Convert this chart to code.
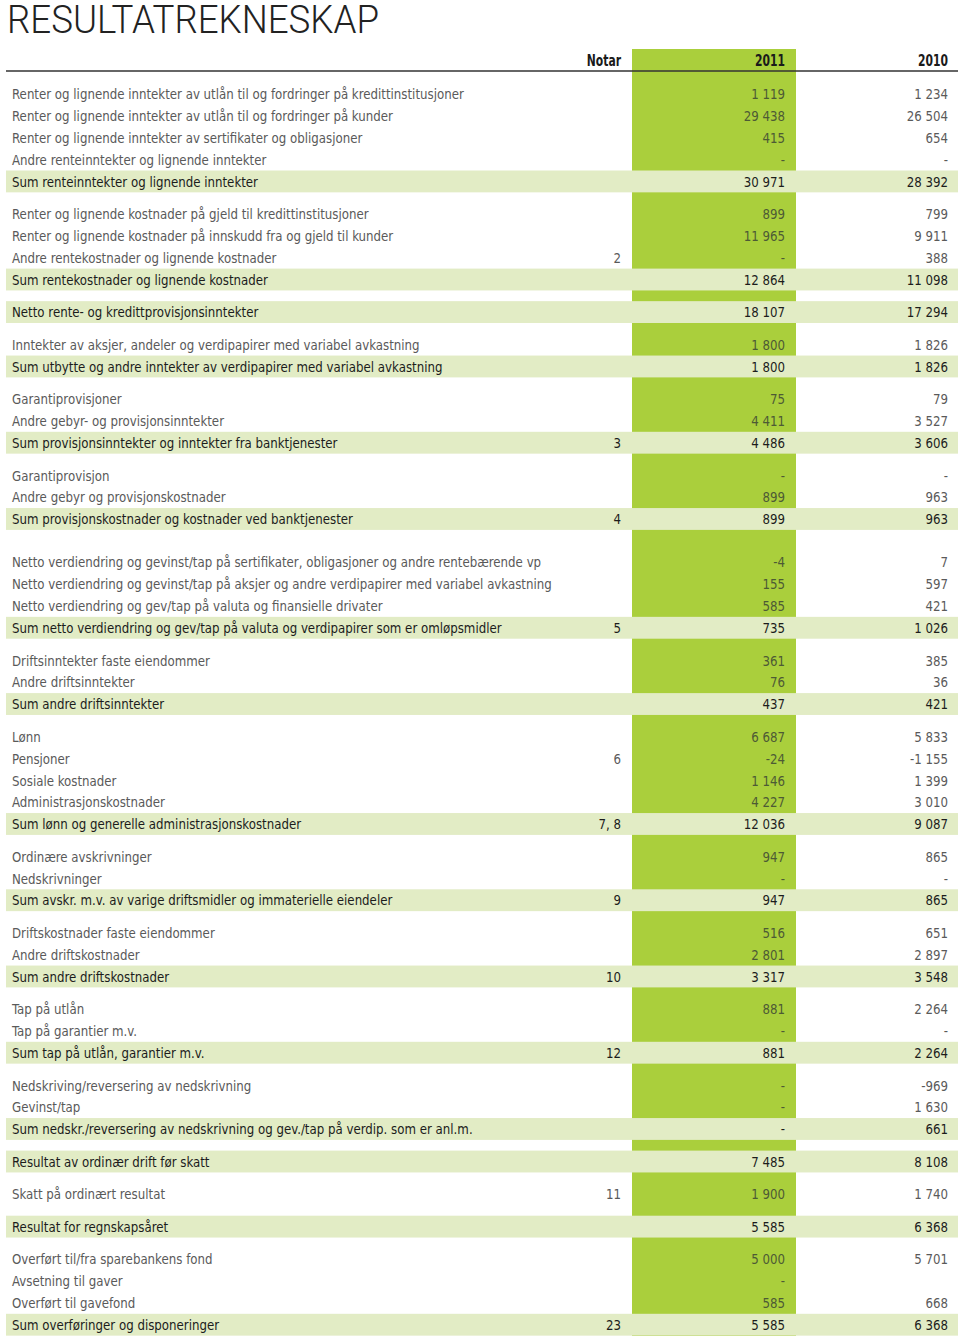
<!DOCTYPE html>
<html>
<head>
<meta charset="utf-8">
<script src="https://cdn.jsdelivr.net/npm/d3@7"></script>
<style>
  body { margin: 0; background: #fff; }
  svg { display: block; }
</style>
</head>
<body>
<div id="chart"></div>
<script>
// RESULTATREKNESKAP

const labels = [
  'Renter og lignende inntekter av utlån til og fordringer på kredittinstitusjoner',
  'Renter og lignende inntekter av utlån til og fordringer på kunder',
  'Renter og lignende inntekter av sertifikater og obligasjoner',
  'Andre renteinntekter og lignende inntekter',
  'Sum renteinntekter og lignende inntekter',
  'Renter og lignende kostnader på gjeld til kredittinstitusjoner',
  'Renter og lignende kostnader på innskudd fra og gjeld til kunder',
  'Andre rentekostnader og lignende kostnader',
  'Sum rentekostnader og lignende kostnader',
  'Netto rente- og kredittprovisjonsinntekter',
  'Inntekter av aksjer, andeler og verdipapirer med variabel avkastning',
  'Sum utbytte og andre inntekter av verdipapirer med variabel avkastning',
  'Garantiprovisjoner',
  'Andre gebyr- og provisjonsinntekter',
  'Sum provisjonsinntekter og inntekter fra banktjenester',
  'Garantiprovisjon',
  'Andre gebyr og provisjonskostnader',
  'Sum provisjonskostnader og kostnader ved banktjenester',
  'Netto verdiendring og gevinst/tap på sertifikater, obligasjoner og andre rentebærende vp',
  'Netto verdiendring og gevinst/tap på aksjer og andre verdipapirer med variabel avkastning',
  'Netto verdiendring og gev/tap på valuta og finansielle drivater',
  'Sum netto verdiendring og gev/tap på valuta og verdipapirer som er omløpsmidler',
  'Driftsinntekter faste eiendommer',
  'Andre driftsinntekter',
  'Sum andre driftsinntekter',
  'Lønn',
  'Pensjoner',
  'Sosiale kostnader',
  'Administrasjonskostnader',
  'Sum lønn og generelle administrasjonskostnader',
  'Ordinære avskrivninger',
  'Nedskrivninger',
  'Sum avskr. m.v. av varige driftsmidler og immaterielle eiendeler',
  'Driftskostnader faste eiendommer',
  'Andre driftskostnader',
  'Sum andre driftskostnader',
  'Tap på utlån',
  'Tap på garantier m.v.',
  'Sum tap på utlån, garantier m.v.',
  'Nedskriving/reversering av nedskrivning',
  'Gevinst/tap',
  'Sum nedskr./reversering av nedskrivning og gev./tap på verdip. som er anl.m.',
  'Resultat av ordinær drift før skatt',
  'Skatt på ordinært resultat',
  'Resultat for regnskapsåret',
  'Overført til/fra sparebankens fond',
  'Avsetning til gaver',
  'Overført til gavefond',
  'Sum overføringer og disponeringer'
]

const notes = [
  '', '', '', '', '',
  '', '', '2', '',
  '',
  '', '',
  '', '', '3',
  '', '', '4',
  '', '', '', '5',
  '', '', '',
  '', '6', '', '', '7, 8',
  '', '', '9',
  '', '', '10',
  '', '', '12',
  '', '', '',
  '',
  '11',
  '',
  '', '', '', '23'
]

// null = "-", undefined = blank
const values2011 = [
  1119, 29438, 415, null, 30971,
  899, 11965, null, 12864,
  18107,
  1800, 1800,
  75, 4411, 4486,
  null, 899, 899,
  -4, 155, 585, 735,
  361, 76, 437,
  6687, -24, 1146, 4227, 12036,
  947, null, 947,
  516, 2801, 3317,
  881, null, 881,
  null, null, null,
  7485,
  1900,
  5585,
  5000, null, 585, 5585
]

const values2010 = [
  1234, 26504, 654, null, 28392,
  799, 9911, 388, 11098,
  17294,
  1826, 1826,
  79, 3527, 3606,
  null, 963, 963,
  7, 597, 421, 1026,
  385, 36, 421,
  5833, -1155, 1399, 3010, 9087,
  865, null, 865,
  651, 2897, 3548,
  2264, null, 2264,
  -969, 1630, 661,
  8108,
  1740,
  6368,
  5701, undefined, 668, 6368
]

// which rows are sum rows, and the group each row belongs to
const sumRows = [4, 8, 9, 11, 14, 17, 21, 24, 29, 32, 35, 38, 41, 42, 44, 48]
const groupSizes = [5, 4, 1, 2, 3, 3, 4, 3, 5, 3, 3, 3, 3, 1, 1, 1, 4]
const wideGapBefore = [6]

const years = ['Notar', '2011', '2010']

const width = 960
const height = 1336

const rowH = 21.85
const gapH = 10.7
const rowsTop = 83.1

const svg = d3
  .select('#chart')
  .append('svg')
  .attr('width', width)
  .attr('height', height)

// build rows
const rows = []
let idx = 0
let gaps = 0
groupSizes.forEach((n, g) => {
  if (g > 0) gaps += wideGapBefore.includes(g) ? 2 : 1
  for (let k = 0; k < n; k++) {
    rows.push({
      label: labels[idx],
      note: notes[idx],
      v2011: values2011[idx],
      v2010: values2010[idx],
      sum: sumRows.includes(idx),
      top: rowsTop + idx * rowH + gaps * gapH
    })
    idx++
  }
})

const xCol = d3
  .scaleOrdinal()
  .domain(years)
  .range([621, 785, 948])

const fmtNum = d3.formatLocale({
  decimal: ',',
  thousands: ' ',
  grouping: [3],
  currency: ['', ''],
  minus: '-'
}).format(',d')

function fmt(v) {
  if (v === undefined) return ''
  if (v === null) return '-'
  return fmtNum(v)
}

const font = "'DejaVu Sans Condensed', 'DejaVu Sans', sans-serif"
const squeeze = 0.9

// green 2011 column
svg
  .append('rect')
  .attr('x', 632)
  .attr('y', 49)
  .attr('width', 164)
  .attr('height', height - 49)
  .attr('fill', '#aacf3c')

// light bands for sum rows
svg
  .selectAll('.band')
  .data(rows.filter(d => d.sum))
  .enter()
  .append('rect')
  .attr('class', 'band')
  .attr('x', 6)
  .attr('y', d => d.top)
  .attr('width', 952)
  .attr('height', rowH)
  .attr('fill', '#e2ecc5')

// title
svg
  .append('text')
  .attr('x', 7)
  .attr('y', 32.5)
  .attr('font-family', "Roboto, 'Open Sans', sans-serif")
  .attr('font-weight', 300)
  .attr('font-size', 39.5)
  .attr('textLength', 372)
  .attr('lengthAdjust', 'spacingAndGlyphs')
  .attr('fill', '#222')
  .text('RESULTATREKNESKAP')

// header
svg
  .selectAll('.head')
  .data(years)
  .enter()
  .append('text')
  .attr('class', 'head')
  .attr('transform', d => 'translate(' + xCol(d) + ',66) scale(0.8,1)')
  .attr('text-anchor', 'end')
  .attr('font-family', font)
  .attr('font-weight', 'bold')
  .attr('font-size', 15)
  .attr('fill', '#1a1a1a')
  .text(d => d)

svg
  .append('line')
  .attr('x1', 6)
  .attr('x2', 958)
  .attr('y1', 71)
  .attr('y2', 71)
  .attr('stroke', '#333')
  .attr('stroke-width', 1.4)

const row = svg
  .selectAll('.row')
  .data(rows)
  .enter()
  .append('g')
  .attr('class', 'row')
  .attr('transform', d => 'translate(0,' + (d.top + rowH / 2) + ')')
  .attr('font-family', font)
  .attr('font-size', 14.6)

function cell(x) {
  return 'translate(' + x + ',0) scale(' + squeeze + ',1)'
}

row
  .append('text')
  .attr('transform', cell(12))
  .attr('dy', '0.36em')
  .attr('fill', d => d.sum ? '#1c1c1c' : '#5a5a5a')
  .text(d => d.label)

row
  .append('text')
  .attr('transform', cell(xCol('Notar')))
  .attr('dy', '0.36em')
  .attr('text-anchor', 'end')
  .attr('fill', d => d.sum ? '#1c1c1c' : '#5a5a5a')
  .text(d => d.note)

row
  .append('text')
  .attr('transform', cell(xCol('2011')))
  .attr('dy', '0.36em')
  .attr('text-anchor', 'end')
  .attr('fill', d => d.sum ? '#1c1c1c' : '#4d5a35')
  .text(d => fmt(d.v2011))

row
  .append('text')
  .attr('transform', cell(xCol('2010')))
  .attr('dy', '0.36em')
  .attr('text-anchor', 'end')
  .attr('fill', d => d.sum ? '#1c1c1c' : '#5a5a5a')
  .text(d => fmt(d.v2010))
</script>
</body>
</html>
